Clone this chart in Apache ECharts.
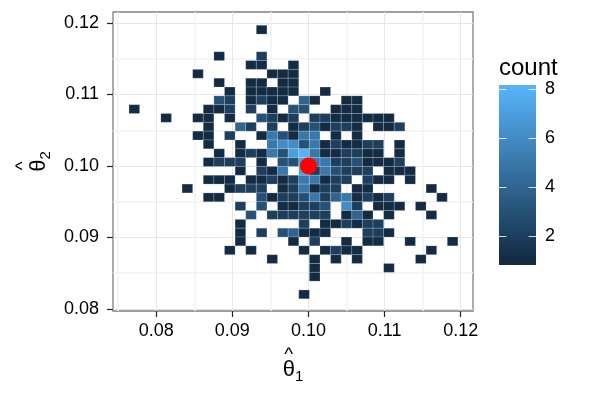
<!DOCTYPE html>
<html>
<head>
<meta charset="utf-8">
<script src="https://cdn.jsdelivr.net/npm/echarts@6/dist/echarts.min.js"></script>
<style>
  html, body { margin: 0; padding: 0; background: #fff; }
  #chart { width: 600px; height: 400px; }
</style>
</head>
<body>
<div id="chart"></div>
<script>
// bin2d counts, top row first, one char per x bin ('.' = empty bin)
const countRows = [
    "............1..................",
    "...............................",
    "...............................",
    "........1...2..................",
    "...........11..1...............",
    "......1......111...............",
    "........1..11.11...............",
    ".........1.11111..1............",
    "........32.1211.41..11.........",
    "1......112.2.1.33..111.........",
    "...1..11.1..3212.22111111......",
    ".......1..42.2.1231221.112.....",
    "......11.2..153155.1.1.........",
    ".......1..1..56635121122.1.....",
    "........1.12153785112211.1.....",
    ".......1222.1.337552231112.....",
    "..........1.215.7253222.111....",
    ".......111.1121255122.211.1....",
    ".....1...1222.125122.11.....1..",
    ".......11...3122352451212....1.",
    "..........2.3.11223.62.111.1...",
    "...........3.222222.141.1...1..",
    "..........1.....2.112122.......",
    "..........1.2.34111...221......",
    "..........1....1.2..1.11..1...1",
    ".........1.1....1.1211......1..",
    ".............1...1.1.1.....1...",
    ".................1......1......",
    ".................1.............",
    "...............................",
    "................1.............."
];

// bin geometry (data units)
const xBinStart = 0.076423, xBinWidth = 0.001394;
const yBinStart = 0.081429, yBinHeight = 0.001234;

// axis ranges and ticks
const xRange = [0.07432, 0.12162];
const yRange = [0.07972, 0.12154];
const xTicks = [0.08, 0.09, 0.10, 0.11, 0.12];
const yTicks = [0.08, 0.09, 0.10, 0.11, 0.12];

// true value marker
const truePoint = [0.1, 0.1];

// colour bar
const countRange = [1, 8];
const legendTicks = [2, 4, 6, 8];
const barRange = [0.816, 8.184];
const lowColor = '#132B43', highColor = '#56B1F7';

let cells = [];
countRows.forEach(function (row, r) {
    let j = countRows.length - 1 - r;
    for (let k = 0; k < row.length; k++) {
        if (row[k] === '.') continue;
        cells.push([xBinStart + (k + 0.5) * xBinWidth, yBinStart + (j + 0.5) * yBinHeight, +row[k]]);
    }
});

const FONT = "'Liberation Sans', 'DejaVu Sans', sans-serif";

// hat drawn on its own line, padded so it sits over the theta
function hatRich() {
    return {
        h: { fontSize: 19, lineHeight: 9, fontFamily: FONT, color: '#000' },
        hp: { fontSize: 15, lineHeight: 9, fontFamily: FONT, color: 'rgba(0,0,0,0)' },
        t: { fontSize: 22, lineHeight: 22, fontFamily: FONT, color: '#000' },
        s: { fontSize: 15, lineHeight: 15, fontFamily: FONT, color: '#000', padding: [14, 0, 0, 0] }
    };
}

let chart = echarts.init(document.getElementById('chart'));

let option = {
    animation: false,
    backgroundColor: '#fff',
    textStyle: { fontFamily: FONT },
    grid: [
        { left: 113, top: 12, width: 360, height: 299, show: true, borderColor: '#7f7f7f', borderWidth: 1.3, backgroundColor: '#fff' },
        { left: 499, top: 85, width: 37, height: 180 }
    ],
    xAxis: [{
        type: 'value', gridIndex: 0, min: xRange[0], max: xRange[1], splitNumber: 5,
        name: '{h|^}{hp|1}\n{t|θ}{s|1}', nameLocation: 'middle', nameGap: 35,
        nameTextStyle: { color: '#000', fontFamily: FONT, rich: hatRich() },
        axisLine: { show: false },
        axisTick: { show: true, length: 6, customValues: xTicks, lineStyle: { color: '#222', width: 1.2 } },
        axisLabel: { color: '#000', fontSize: 18, margin: 11, showMinLabel: false, showMaxLabel: false,
            formatter: function (v) { return v.toFixed(2); } },
        splitLine: { show: true, lineStyle: { color: '#e6e6e6', width: 1 } },
        minorTick: { show: false, splitNumber: 2 },
        minorSplitLine: { show: true, lineStyle: { color: '#f2f2f2', width: 1.5 } }
    }, {
        type: 'value', gridIndex: 1, min: 0, max: 1, show: false
    }],
    yAxis: [{
        type: 'value', gridIndex: 0, min: yRange[0], max: yRange[1], splitNumber: 5,
        name: '{h|^}{hp|2}\n{t|θ}{s|2}', nameLocation: 'middle', nameGap: 60, nameRotate: 90,
        nameTextStyle: { color: '#000', fontFamily: FONT, rich: hatRich() },
        axisLine: { show: false },
        axisTick: { show: true, length: 6, customValues: yTicks, lineStyle: { color: '#222', width: 1.2 } },
        axisLabel: { color: '#000', fontSize: 18, margin: 14, showMinLabel: false, showMaxLabel: false,
            formatter: function (v) { return v.toFixed(2); } },
        splitLine: { show: true, lineStyle: { color: '#e6e6e6', width: 1 } },
        minorTick: { show: false, splitNumber: 2 },
        minorSplitLine: { show: true, lineStyle: { color: '#f2f2f2', width: 1.5 } }
    }, {
        type: 'value', gridIndex: 1, min: barRange[0], max: barRange[1], splitNumber: 3,
        position: 'right',
        axisLine: { show: false },
        axisTick: { show: false },
        splitLine: { show: false },
        axisLabel: { color: '#000', fontSize: 18, margin: 9, customValues: legendTicks }
    }],
    visualMap: {
        show: false, type: 'continuous', seriesIndex: 0, dimension: 2,
        min: countRange[0], max: countRange[1],
        inRange: { color: [lowColor, highColor] }
    },
    graphic: [{
        type: 'text', left: 499, top: 56,
        style: { text: 'count', font: '24px ' + FONT, fill: '#000' }
    }],
    series: [{
        name: 'count',
        type: 'custom',
        xAxisIndex: 0, yAxisIndex: 0,
        data: cells,
        encode: { x: 0, y: 1 },
        renderItem: function (params, api) {
            let x = api.value(0), y = api.value(1);
            let p0 = api.coord([x - xBinWidth / 2, y + yBinHeight / 2]);
            let p1 = api.coord([x + xBinWidth / 2, y - yBinHeight / 2]);
            return {
                type: 'rect',
                shape: { x: p0[0], y: p0[1], width: p1[0] - p0[0], height: p1[1] - p0[1] },
                style: { fill: api.visual('color'), stroke: 'rgba(255,255,255,0.3)', lineWidth: 0.6 }
            };
        }
    }, {
        type: 'scatter',
        xAxisIndex: 0, yAxisIndex: 0,
        data: [truePoint],
        symbolSize: 17,
        itemStyle: { color: '#ff0000', opacity: 1 },
        z: 5
    }, {
        type: 'custom',
        xAxisIndex: 1, yAxisIndex: 1,
        data: [[0, barRange[0]]],
        renderItem: function (params, api) {
            let a = api.coord([0, barRange[1]]);
            let b = api.coord([1, barRange[0]]);
            let children = [{
                type: 'rect',
                shape: { x: a[0], y: a[1], width: b[0] - a[0], height: b[1] - a[1] },
                style: {
                    fill: new echarts.graphic.LinearGradient(0, 1, 0, 0, [
                        { offset: 0.025, color: lowColor },
                        { offset: 0.975, color: highColor }
                    ])
                }
            }];
            let w = b[0] - a[0];
            legendTicks.forEach(function (v) {
                let yy = Math.round(api.coord([0, v])[1]) + 0.5;
                children.push({ type: 'line', shape: { x1: a[0], y1: yy, x2: a[0] + w / 5, y2: yy },
                    style: { stroke: 'rgba(255,255,255,0.8)', lineWidth: 1 } });
                children.push({ type: 'line', shape: { x1: b[0] - w / 5, y1: yy, x2: b[0], y2: yy },
                    style: { stroke: 'rgba(255,255,255,0.8)', lineWidth: 1 } });
            });
            return { type: 'group', children: children };
        }
    }]
};

chart.setOption(option);
</script>
</body>
</html>
